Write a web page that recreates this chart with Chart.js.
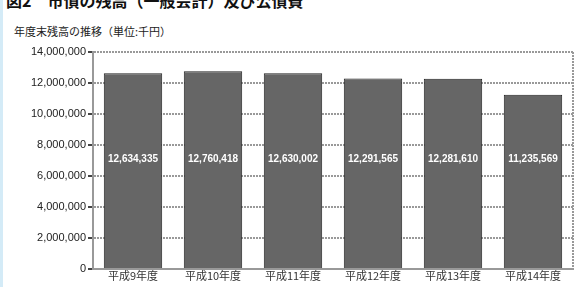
<!DOCTYPE html>
<html>
<head>
<meta charset="utf-8">
<script src="https://cdn.jsdelivr.net/npm/chart.js@4"></script>
<style>
  html, body { margin: 0; padding: 0; background: #fff; }
  body { width: 583px; height: 287px; position: relative; overflow: hidden; }
  #edge { position: absolute; left: 0; top: 0; width: 3px; height: 287px; background: #d4ebf7; }
  #head { position: absolute; left: 6px; top: -12px; font: bold 16px "Noto Sans CJK JP", sans-serif; color: #111; white-space: nowrap; }
  #sub { position: absolute; left: 14px; top: 23px; font: 11px "Noto Sans CJK JP", sans-serif; color: #222; white-space: nowrap; }
  #wrap { position: absolute; left: 0; top: 0; width: 583px; height: 287px; }
</style>
</head>
<body>
<div id="edge"></div>
<div id="head">図2　市債の残高（一般会計）及び公債費</div>
<div id="sub">年度末残高の推移（単位:千円）</div>
<div id="wrap"><canvas id="chart"></canvas></div>
<script>
const years = ['平成9年度', '平成10年度', '平成11年度', '平成12年度', '平成13年度', '平成14年度'];
const balance = [12634335, 12760418, 12630002, 12291565, 12281610, 11235569];
const yTicks = [0, 2000000, 4000000, 6000000, 8000000, 10000000, 12000000, 14000000];

const fmt = v => v.toLocaleString('en-US');

const boxAndLabels = {
  id: 'boxAndLabels',
  beforeDatasetsDraw(chart) {
    const { ctx, chartArea: a } = chart;
    ctx.save();
    ctx.strokeStyle = '#999';
    ctx.lineWidth = 2;
    ctx.setLineDash([2, 1]);
    ctx.beginPath();
    ctx.moveTo(a.right, a.top);
    ctx.lineTo(a.right, a.bottom);
    ctx.stroke();
    ctx.restore();
  },
  afterDatasetsDraw(chart) {
    const { ctx } = chart;
    const meta = chart.getDatasetMeta(0);
    const y = chart.scales.y.getPixelForValue(7100000);
    ctx.save();
    ctx.fillStyle = '#fff';
    ctx.font = 'bold 10px Arial, sans-serif';
    ctx.textAlign = 'center';
    ctx.textBaseline = 'middle';
    meta.data.forEach((bar, i) => {
      ctx.fillText(fmt(balance[i]), bar.x, y);
    });
    ctx.restore();
  }
};

new Chart(document.getElementById('chart'), {
  type: 'bar',
  data: {
    labels: years,
    datasets: [{
      data: balance,
      backgroundColor: '#666666',
      borderColor: '#222',
      borderWidth: 1,
      categoryPercentage: 0.73,
      barPercentage: 1
    }]
  },
  options: {
    responsive: true,
    maintainAspectRatio: false,
    animation: false,
    layout: { padding: { top: 52, right: 10, left: 0, bottom: 0 } },
    plugins: { legend: { display: false }, tooltip: { enabled: false } },
    scales: {
      x: {
        grid: { display: false, drawTicks: false },
        border: { color: '#999', width: 2, dash: [2, 1] },
        ticks: { color: '#333', font: { size: 11, family: '"Noto Sans CJK JP", sans-serif' }, padding: 0 },
        afterFit: s => { s.height = 18; }
      },
      y: {
        min: 0,
        max: 14000000,
        afterBuildTicks: s => { s.ticks = yTicks.map(v => ({ value: v })); },
        grid: { color: '#999', lineWidth: 2, tickLength: 5, tickColor: '#444', drawTicks: true },
        border: { color: '#999', width: 2, dash: [2, 1] },
        ticks: { color: '#222', font: { size: 11, family: 'Arial, sans-serif' }, padding: 2, callback: v => fmt(v) },
        afterFit: s => { s.width = 93; }
      }
    }
  },
  plugins: [boxAndLabels]
});
</script>
</body>
</html>
